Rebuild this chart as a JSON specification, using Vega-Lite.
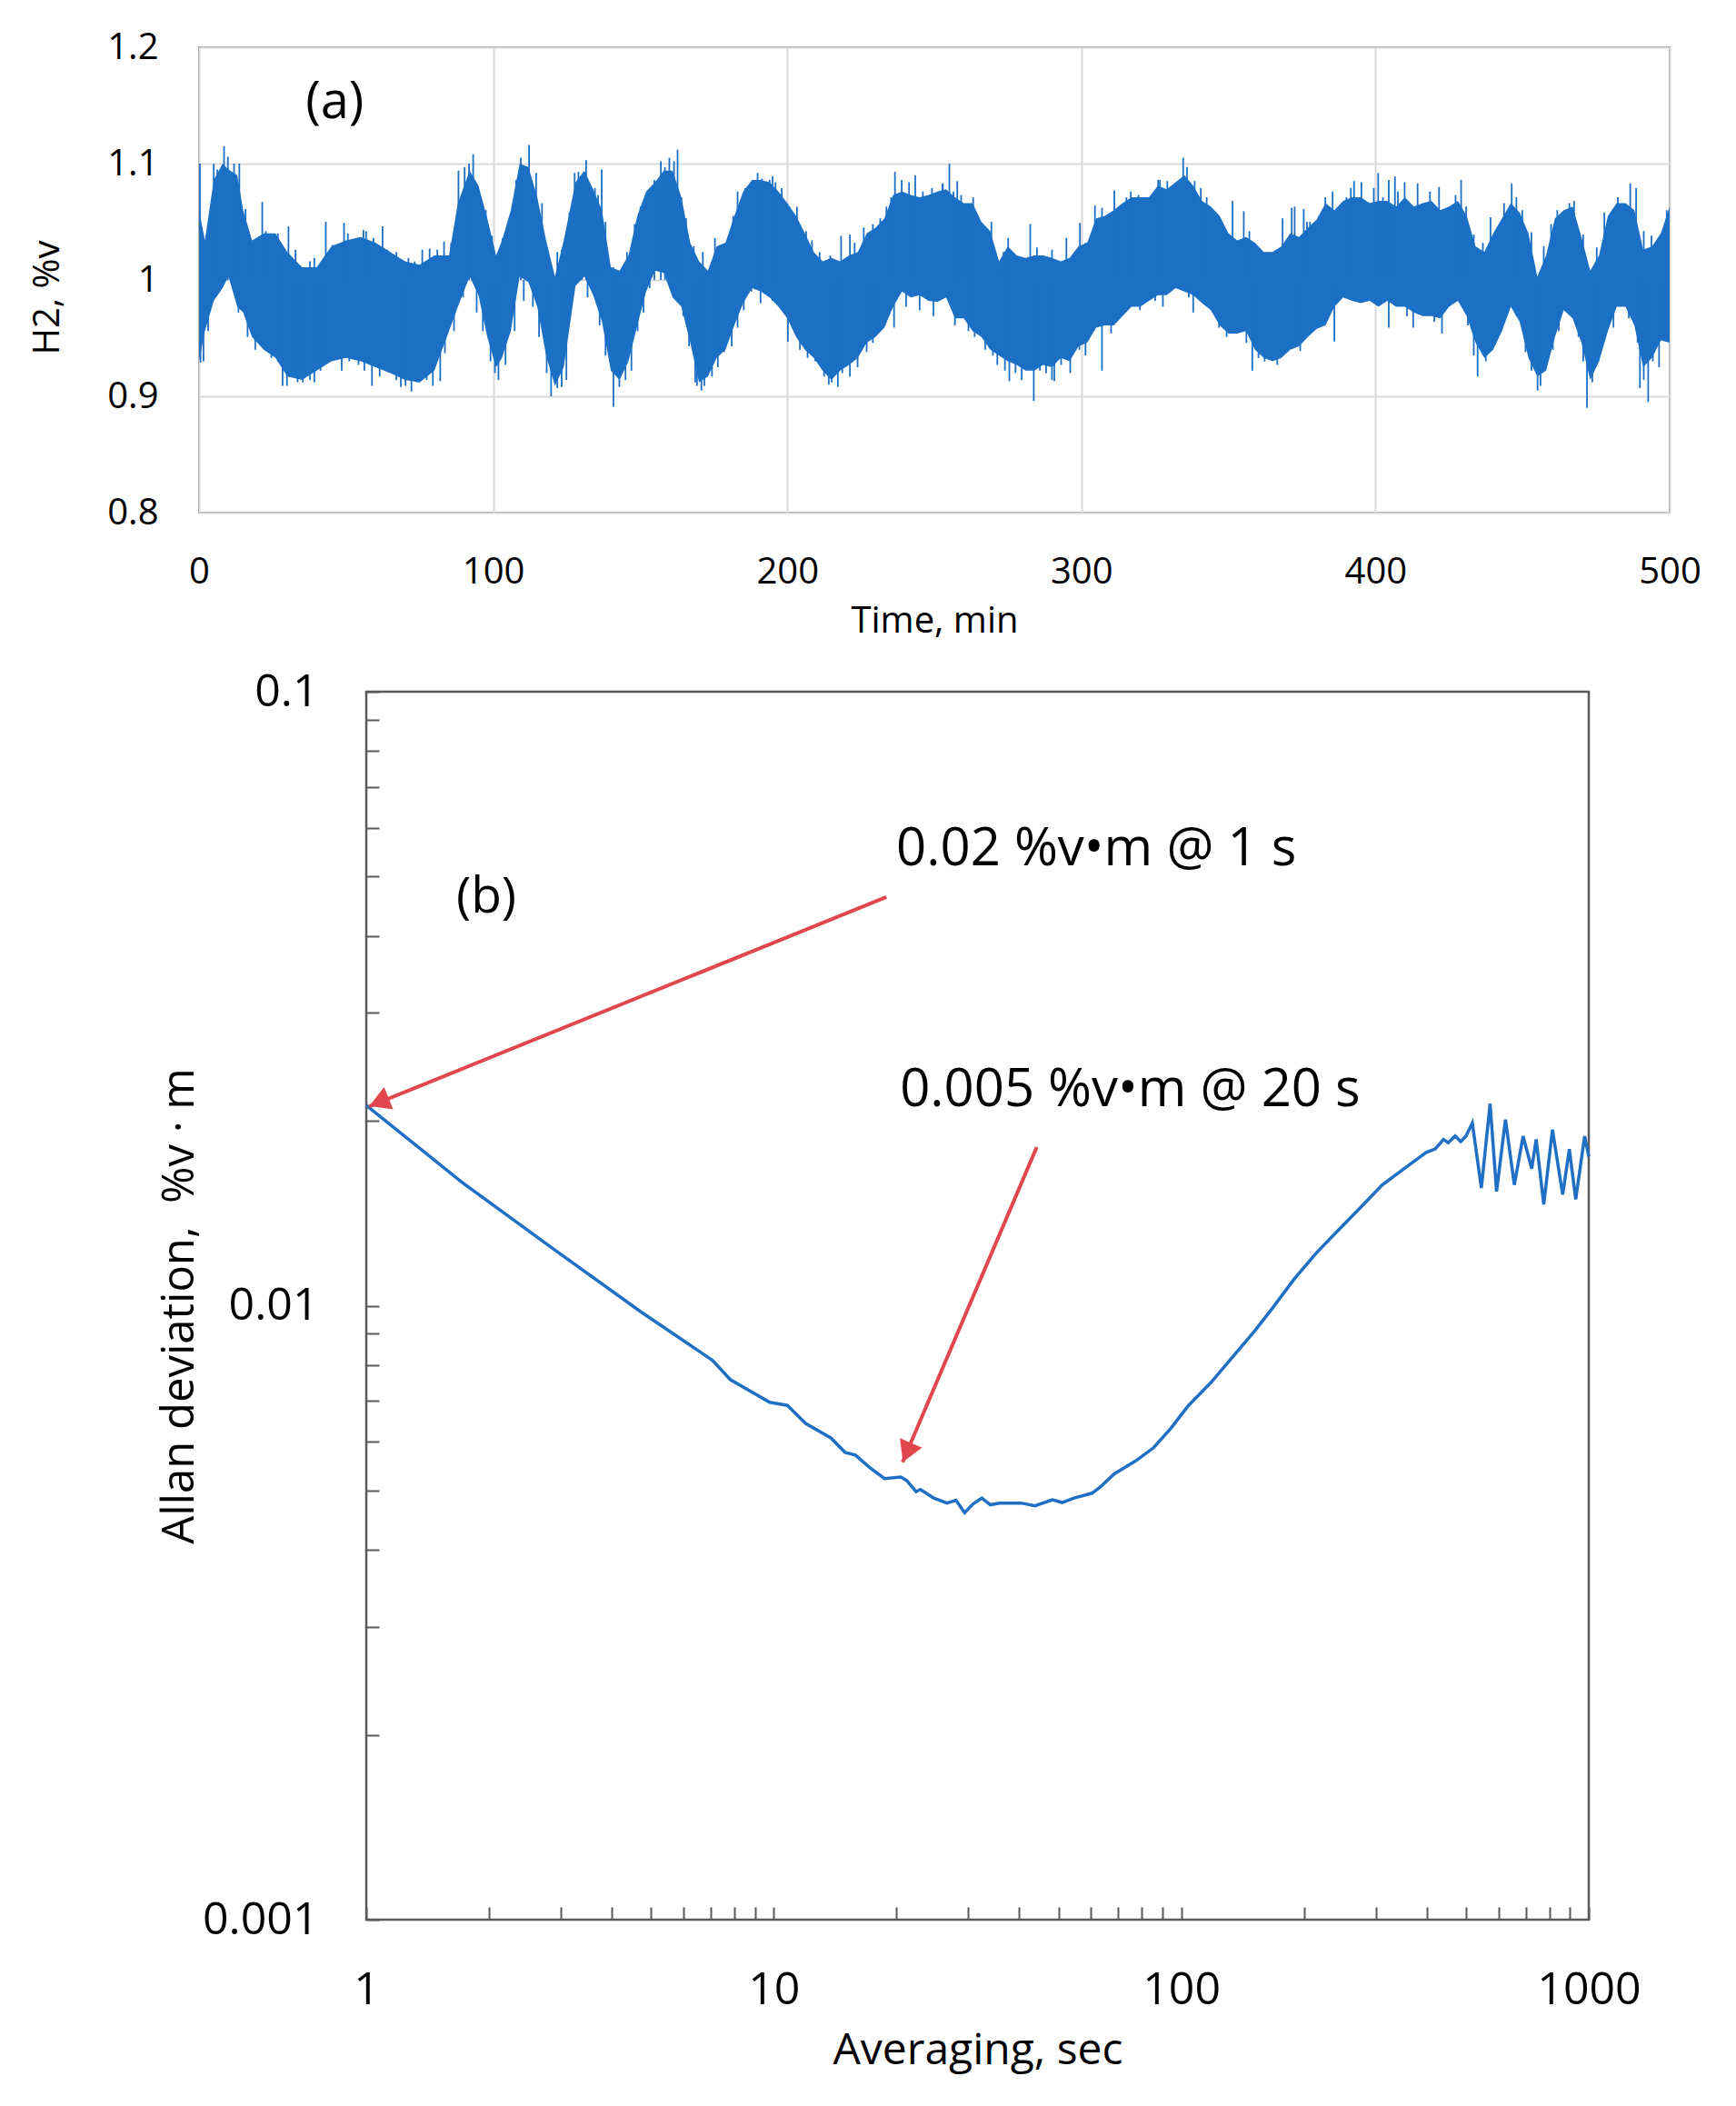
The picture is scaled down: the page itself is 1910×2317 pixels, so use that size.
{
  "$schema": "https://vega.github.io/schema/vega-lite/v6.json",
  "background": "white",
  "padding": {"left": 31, "top": 31, "right": 0, "bottom": 0},
  "config": {"font": "Open Sans", "view": {"stroke": null}},
  "spacing": 30,
  "datasets": {
    "band": [
      {"t": 0, "lo": 0.93, "hi": 1.06}, {"t": 2, "lo": 0.956, "hi": 1.034}, {"t": 5, "lo": 0.982, "hi": 1.086},
      {"t": 8, "lo": 0.993, "hi": 1.1}, {"t": 10, "lo": 1.003, "hi": 1.095}, {"t": 13, "lo": 0.977, "hi": 1.09},
      {"t": 15, "lo": 0.972, "hi": 1.06}, {"t": 18, "lo": 0.951, "hi": 1.034}, {"t": 22, "lo": 0.94, "hi": 1.04},
      {"t": 26, "lo": 0.933, "hi": 1.04}, {"t": 30, "lo": 0.917, "hi": 1.024}, {"t": 35, "lo": 0.914, "hi": 1.011},
      {"t": 40, "lo": 0.922, "hi": 1.011}, {"t": 45, "lo": 0.93, "hi": 1.029}, {"t": 50, "lo": 0.933, "hi": 1.034},
      {"t": 55, "lo": 0.93, "hi": 1.037}, {"t": 60, "lo": 0.925, "hi": 1.032}, {"t": 65, "lo": 0.92, "hi": 1.024},
      {"t": 70, "lo": 0.914, "hi": 1.016}, {"t": 75, "lo": 0.912, "hi": 1.013}, {"t": 80, "lo": 0.922, "hi": 1.021},
      {"t": 85, "lo": 0.956, "hi": 1.021}, {"t": 88, "lo": 0.977, "hi": 1.066}, {"t": 92, "lo": 1.003, "hi": 1.094},
      {"t": 95, "lo": 0.987, "hi": 1.081}, {"t": 98, "lo": 0.951, "hi": 1.053}, {"t": 101, "lo": 0.925, "hi": 1.021},
      {"t": 103, "lo": 0.933, "hi": 1.034}, {"t": 106, "lo": 0.956, "hi": 1.06}, {"t": 109, "lo": 1.003, "hi": 1.1},
      {"t": 112, "lo": 0.998, "hi": 1.097}, {"t": 115, "lo": 0.977, "hi": 1.071}, {"t": 118, "lo": 0.935, "hi": 1.034},
      {"t": 121, "lo": 0.909, "hi": 1.003}, {"t": 124, "lo": 0.925, "hi": 1.034}, {"t": 128, "lo": 0.995, "hi": 1.084},
      {"t": 131, "lo": 1.003, "hi": 1.094}, {"t": 134, "lo": 0.987, "hi": 1.078}, {"t": 137, "lo": 0.964, "hi": 1.06},
      {"t": 140, "lo": 0.922, "hi": 1.011}, {"t": 143, "lo": 0.914, "hi": 1.008}, {"t": 146, "lo": 0.93, "hi": 1.021},
      {"t": 149, "lo": 0.961, "hi": 1.055}, {"t": 152, "lo": 0.99, "hi": 1.076}, {"t": 155, "lo": 1.008, "hi": 1.084},
      {"t": 158, "lo": 1.006, "hi": 1.094}, {"t": 161, "lo": 0.985, "hi": 1.094}, {"t": 164, "lo": 0.977, "hi": 1.071},
      {"t": 167, "lo": 0.946, "hi": 1.032}, {"t": 170, "lo": 0.912, "hi": 1.016}, {"t": 173, "lo": 0.917, "hi": 1.008},
      {"t": 176, "lo": 0.933, "hi": 1.029}, {"t": 179, "lo": 0.94, "hi": 1.032}, {"t": 182, "lo": 0.961, "hi": 1.055},
      {"t": 185, "lo": 0.98, "hi": 1.076}, {"t": 188, "lo": 0.993, "hi": 1.086}, {"t": 191, "lo": 0.99, "hi": 1.086},
      {"t": 194, "lo": 0.985, "hi": 1.084}, {"t": 197, "lo": 0.977, "hi": 1.076}, {"t": 200, "lo": 0.967, "hi": 1.066},
      {"t": 203, "lo": 0.951, "hi": 1.055}, {"t": 206, "lo": 0.94, "hi": 1.04}, {"t": 209, "lo": 0.933, "hi": 1.024},
      {"t": 212, "lo": 0.922, "hi": 1.016}, {"t": 215, "lo": 0.914, "hi": 1.019}, {"t": 218, "lo": 0.922, "hi": 1.016},
      {"t": 221, "lo": 0.927, "hi": 1.021}, {"t": 224, "lo": 0.933, "hi": 1.024}, {"t": 227, "lo": 0.946, "hi": 1.04},
      {"t": 230, "lo": 0.951, "hi": 1.045}, {"t": 233, "lo": 0.959, "hi": 1.053}, {"t": 236, "lo": 0.977, "hi": 1.073},
      {"t": 239, "lo": 0.99, "hi": 1.076}, {"t": 242, "lo": 0.985, "hi": 1.073}, {"t": 245, "lo": 0.987, "hi": 1.071},
      {"t": 248, "lo": 0.982, "hi": 1.073}, {"t": 251, "lo": 0.981, "hi": 1.076}, {"t": 254, "lo": 0.985, "hi": 1.078},
      {"t": 257, "lo": 0.967, "hi": 1.071}, {"t": 260, "lo": 0.967, "hi": 1.066}, {"t": 263, "lo": 0.956, "hi": 1.066},
      {"t": 266, "lo": 0.951, "hi": 1.05}, {"t": 269, "lo": 0.94, "hi": 1.042}, {"t": 272, "lo": 0.935, "hi": 1.016},
      {"t": 275, "lo": 0.93, "hi": 1.029}, {"t": 278, "lo": 0.927, "hi": 1.021}, {"t": 281, "lo": 0.922, "hi": 1.019},
      {"t": 284, "lo": 0.922, "hi": 1.021}, {"t": 287, "lo": 0.927, "hi": 1.021}, {"t": 290, "lo": 0.925, "hi": 1.019},
      {"t": 293, "lo": 0.933, "hi": 1.016}, {"t": 296, "lo": 0.93, "hi": 1.019}, {"t": 299, "lo": 0.943, "hi": 1.029},
      {"t": 302, "lo": 0.946, "hi": 1.032}, {"t": 305, "lo": 0.959, "hi": 1.053}, {"t": 308, "lo": 0.961, "hi": 1.055},
      {"t": 311, "lo": 0.961, "hi": 1.06}, {"t": 314, "lo": 0.969, "hi": 1.066}, {"t": 317, "lo": 0.977, "hi": 1.071},
      {"t": 320, "lo": 0.977, "hi": 1.071}, {"t": 323, "lo": 0.982, "hi": 1.071}, {"t": 326, "lo": 0.987, "hi": 1.081},
      {"t": 329, "lo": 0.987, "hi": 1.078}, {"t": 332, "lo": 0.993, "hi": 1.084}, {"t": 335, "lo": 0.99, "hi": 1.09},
      {"t": 338, "lo": 0.987, "hi": 1.081}, {"t": 341, "lo": 0.98, "hi": 1.068}, {"t": 344, "lo": 0.974, "hi": 1.063},
      {"t": 347, "lo": 0.961, "hi": 1.055}, {"t": 350, "lo": 0.954, "hi": 1.04}, {"t": 353, "lo": 0.954, "hi": 1.034},
      {"t": 356, "lo": 0.956, "hi": 1.037}, {"t": 359, "lo": 0.94, "hi": 1.032}, {"t": 362, "lo": 0.933, "hi": 1.024},
      {"t": 365, "lo": 0.93, "hi": 1.024}, {"t": 368, "lo": 0.933, "hi": 1.029}, {"t": 371, "lo": 0.94, "hi": 1.04},
      {"t": 374, "lo": 0.943, "hi": 1.037}, {"t": 377, "lo": 0.951, "hi": 1.045}, {"t": 380, "lo": 0.958, "hi": 1.052},
      {"t": 383, "lo": 0.961, "hi": 1.066}, {"t": 386, "lo": 0.977, "hi": 1.06}, {"t": 389, "lo": 0.985, "hi": 1.068},
      {"t": 392, "lo": 0.982, "hi": 1.071}, {"t": 395, "lo": 0.98, "hi": 1.071}, {"t": 398, "lo": 0.982, "hi": 1.066},
      {"t": 401, "lo": 0.977, "hi": 1.068}, {"t": 404, "lo": 0.982, "hi": 1.068}, {"t": 407, "lo": 0.977, "hi": 1.063},
      {"t": 410, "lo": 0.977, "hi": 1.071}, {"t": 413, "lo": 0.972, "hi": 1.063}, {"t": 416, "lo": 0.969, "hi": 1.066},
      {"t": 419, "lo": 0.969, "hi": 1.068}, {"t": 422, "lo": 0.967, "hi": 1.06}, {"t": 425, "lo": 0.977, "hi": 1.063},
      {"t": 428, "lo": 0.982, "hi": 1.068}, {"t": 431, "lo": 0.969, "hi": 1.055}, {"t": 434, "lo": 0.946, "hi": 1.029},
      {"t": 437, "lo": 0.933, "hi": 1.024}, {"t": 440, "lo": 0.94, "hi": 1.04}, {"t": 443, "lo": 0.956, "hi": 1.053},
      {"t": 446, "lo": 0.977, "hi": 1.066}, {"t": 449, "lo": 0.964, "hi": 1.058}, {"t": 452, "lo": 0.933, "hi": 1.04},
      {"t": 455, "lo": 0.917, "hi": 1.003}, {"t": 458, "lo": 0.922, "hi": 1.021}, {"t": 461, "lo": 0.951, "hi": 1.053},
      {"t": 464, "lo": 0.974, "hi": 1.06}, {"t": 467, "lo": 0.967, "hi": 1.063}, {"t": 470, "lo": 0.946, "hi": 1.037},
      {"t": 473, "lo": 0.914, "hi": 1.008}, {"t": 476, "lo": 0.93, "hi": 1.021}, {"t": 479, "lo": 0.956, "hi": 1.055},
      {"t": 482, "lo": 0.977, "hi": 1.066}, {"t": 485, "lo": 0.977, "hi": 1.066}, {"t": 488, "lo": 0.961, "hi": 1.06},
      {"t": 491, "lo": 0.925, "hi": 1.026}, {"t": 494, "lo": 0.933, "hi": 1.029}, {"t": 497, "lo": 0.948, "hi": 1.04},
      {"t": 500, "lo": 0.946, "hi": 1.063}
    ],
    "spikes": [
      {"t": 0.3, "v": 1.1}, {"t": 8.5, "v": 1.115}, {"t": 11.9, "v": 1.1}, {"t": 13.7, "v": 1.1}, {"t": 21.5, "v": 1.067},
      {"t": 30.4, "v": 1.046}, {"t": 43.1, "v": 1.05}, {"t": 49.3, "v": 1.049}, {"t": 55.9, "v": 1.043}, {"t": 62.4, "v": 1.046},
      {"t": 83.3, "v": 1.033}, {"t": 93.2, "v": 1.108}, {"t": 99.6, "v": 1.038}, {"t": 112.2, "v": 1.116}, {"t": 131.6, "v": 1.103},
      {"t": 136.9, "v": 1.095}, {"t": 157, "v": 1.102}, {"t": 162.7, "v": 1.112}, {"t": 175.4, "v": 1.036}, {"t": 189.9, "v": 1.092},
      {"t": 195, "v": 1.089}, {"t": 218.3, "v": 1.038}, {"t": 236.6, "v": 1.093}, {"t": 243.5, "v": 1.09}, {"t": 255.1, "v": 1.1},
      {"t": 257.8, "v": 1.085}, {"t": 282.6, "v": 1.048}, {"t": 294.9, "v": 1.036}, {"t": 299.5, "v": 1.049}, {"t": 304.6, "v": 1.064},
      {"t": 311.2, "v": 1.077}, {"t": 326.7, "v": 1.086}, {"t": 334.6, "v": 1.105}, {"t": 351.4, "v": 1.068}, {"t": 355.2, "v": 1.059},
      {"t": 371.5, "v": 1.062}, {"t": 375.6, "v": 1.061}, {"t": 392.7, "v": 1.085}, {"t": 400.9, "v": 1.092}, {"t": 406.6, "v": 1.089},
      {"t": 429.1, "v": 1.086}, {"t": 446.3, "v": 1.083}, {"t": 467.5, "v": 1.068}, {"t": 486.6, "v": 1.083},
      {"t": 0.5, "v": 0.929}, {"t": 28.4, "v": 0.909}, {"t": 33.5, "v": 0.912}, {"t": 39.2, "v": 0.912}, {"t": 58.8, "v": 0.909},
      {"t": 68.6, "v": 0.908}, {"t": 72.2, "v": 0.904}, {"t": 82, "v": 0.913}, {"t": 101.8, "v": 0.914}, {"t": 119.7, "v": 0.9},
      {"t": 123.3, "v": 0.908}, {"t": 140.9, "v": 0.891}, {"t": 142.9, "v": 0.908}, {"t": 169.3, "v": 0.909}, {"t": 170.8, "v": 0.905},
      {"t": 214.1, "v": 0.91}, {"t": 217.2, "v": 0.908}, {"t": 275.5, "v": 0.913}, {"t": 283.8, "v": 0.896}, {"t": 290.8, "v": 0.913},
      {"t": 307, "v": 0.922}, {"t": 358.1, "v": 0.922}, {"t": 366.6, "v": 0.927}, {"t": 374.4, "v": 0.939}, {"t": 386, "v": 0.947},
      {"t": 434.7, "v": 0.917}, {"t": 455.1, "v": 0.905}, {"t": 471.9, "v": 0.89}, {"t": 489.9, "v": 0.907}, {"t": 492.7, "v": 0.895},
      {"t": 5, "v": 1.1}, {"t": 6.2, "v": 1.095}, {"t": 9.8, "v": 1.106}, {"t": 15.8, "v": 1.061}, {"t": 17, "v": 1.041},
      {"t": 19, "v": 1.032}, {"t": 22.7, "v": 1.042}, {"t": 24.3, "v": 1.04}, {"t": 26.8, "v": 1.04}, {"t": 28.4, "v": 1.024},
      {"t": 32.8, "v": 1.026}, {"t": 34.6, "v": 1.012}, {"t": 37.7, "v": 1.016}, {"t": 39.2, "v": 1.019}, {"t": 45.4, "v": 1.03},
      {"t": 47.5, "v": 1.031}, {"t": 50.6, "v": 1.04}, {"t": 53.1, "v": 1.034}, {"t": 56.8, "v": 1.042}, {"t": 59.3, "v": 1.036},
      {"t": 64, "v": 1.026}, {"t": 67.1, "v": 1.024}, {"t": 71.2, "v": 1.019}, {"t": 73.3, "v": 1.016}, {"t": 75.9, "v": 1.026},
      {"t": 78.4, "v": 1.027}, {"t": 81, "v": 1.026}, {"t": 85.7, "v": 1.032}, {"t": 88.2, "v": 1.094}, {"t": 90.3, "v": 1.097},
      {"t": 91.8, "v": 1.1}, {"t": 97.5, "v": 1.06}, {"t": 103.2, "v": 1.036}, {"t": 104.7, "v": 1.038}, {"t": 107.8, "v": 1.086},
      {"t": 109.4, "v": 1.105}, {"t": 114.6, "v": 1.092}, {"t": 116.6, "v": 1.066}, {"t": 121.8, "v": 1.024}, {"t": 123.3, "v": 1.026},
      {"t": 125.9, "v": 1.058},
      {"t": 1.5, "v": 0.93}, {"t": 3.1, "v": 0.956}, {"t": 13.4, "v": 0.972}, {"t": 16.5, "v": 0.951}, {"t": 19.1, "v": 0.94},
      {"t": 22.2, "v": 0.943}, {"t": 24.6, "v": 0.933}, {"t": 26.8, "v": 0.93}, {"t": 29.9, "v": 0.909}, {"t": 31.5, "v": 0.92},
      {"t": 35.3, "v": 0.912}, {"t": 37.7, "v": 0.914}, {"t": 41.3, "v": 0.922}, {"t": 42.8, "v": 0.93}, {"t": 48.5, "v": 0.922},
      {"t": 51.1, "v": 0.93}, {"t": 54.2, "v": 0.927}, {"t": 56.2, "v": 0.922}, {"t": 61.4, "v": 0.917}, {"t": 64, "v": 0.925},
      {"t": 67.1, "v": 0.914}, {"t": 70.2, "v": 0.909}, {"t": 74.3, "v": 0.912}, {"t": 77.4, "v": 0.914}, {"t": 79.5, "v": 0.909},
      {"t": 83.6, "v": 0.937}, {"t": 86.7, "v": 0.956}, {"t": 89.8, "v": 0.985}, {"t": 94.4, "v": 0.972}, {"t": 96.5, "v": 0.956},
      {"t": 99.1, "v": 0.93}, {"t": 100.6, "v": 0.92}, {"t": 104.2, "v": 0.927}, {"t": 107.3, "v": 0.956}, {"t": 110.4, "v": 0.982},
      {"t": 113.5, "v": 0.977}, {"t": 115.6, "v": 0.951}, {"t": 118.2, "v": 0.92}, {"t": 121.8, "v": 0.907}, {"t": 124.9, "v": 0.914},
      {"t": 127.7, "v": 1.092}, {"t": 129, "v": 1.093}, {"t": 130.2, "v": 1.089}, {"t": 132.6, "v": 1.084}, {"t": 134.6, "v": 1.079},
      {"t": 135.7, "v": 1.073}, {"t": 138.2, "v": 1.05}, {"t": 140.8, "v": 1.011}, {"t": 143.4, "v": 1.008}, {"t": 145.5, "v": 1.024},
      {"t": 148.1, "v": 1.048}, {"t": 150.1, "v": 1.063}, {"t": 152.7, "v": 1.076}, {"t": 154.8, "v": 1.086}, {"t": 158.4, "v": 1.097},
      {"t": 159.9, "v": 1.105}, {"t": 161.5, "v": 1.102}, {"t": 164, "v": 1.071}, {"t": 165.6, "v": 1.053}, {"t": 168.2, "v": 1.029},
      {"t": 171.3, "v": 1.024}, {"t": 177, "v": 1.029}, {"t": 179.5, "v": 1.034}, {"t": 181.6, "v": 1.055}, {"t": 183.1, "v": 1.076},
      {"t": 185.7, "v": 1.079}, {"t": 188.3, "v": 1.086}, {"t": 191.4, "v": 1.087}, {"t": 194, "v": 1.086}, {"t": 196, "v": 1.084},
      {"t": 198.1, "v": 1.079}, {"t": 200.7, "v": 1.063}, {"t": 203.3, "v": 1.063}, {"t": 206.4, "v": 1.042}, {"t": 208.4, "v": 1.034},
      {"t": 211, "v": 1.024}, {"t": 214.6, "v": 1.021}, {"t": 221.3, "v": 1.039}, {"t": 222.9, "v": 1.032}, {"t": 226, "v": 1.045},
      {"t": 229.1, "v": 1.048}, {"t": 231.6, "v": 1.053}, {"t": 233.7, "v": 1.063}, {"t": 235.3, "v": 1.071}, {"t": 238.9, "v": 1.086},
      {"t": 241.4, "v": 1.084}, {"t": 246.1, "v": 1.076}, {"t": 249.2, "v": 1.079}, {"t": 252.8, "v": 1.083},
      {"t": 124.8, "v": 0.938}, {"t": 126.9, "v": 0.982}, {"t": 132.1, "v": 0.985}, {"t": 136.2, "v": 0.961}, {"t": 138.2, "v": 0.935},
      {"t": 140.3, "v": 0.922}, {"t": 145, "v": 0.914}, {"t": 147, "v": 0.922}, {"t": 149.1, "v": 0.956}, {"t": 151.1, "v": 0.972},
      {"t": 153.2, "v": 0.993}, {"t": 159.4, "v": 1.003}, {"t": 162, "v": 0.985}, {"t": 164.6, "v": 0.969}, {"t": 166.6, "v": 0.943},
      {"t": 168.7, "v": 0.912}, {"t": 171.8, "v": 0.909}, {"t": 174.4, "v": 0.917}, {"t": 176.4, "v": 0.925}, {"t": 178.5, "v": 0.938},
      {"t": 181.1, "v": 0.943}, {"t": 183.1, "v": 0.959}, {"t": 185.2, "v": 0.974}, {"t": 187.8, "v": 0.99}, {"t": 190.9, "v": 0.98},
      {"t": 195, "v": 0.982}, {"t": 200.2, "v": 0.947}, {"t": 204.3, "v": 0.94}, {"t": 206.9, "v": 0.933}, {"t": 209.5, "v": 0.93},
      {"t": 212.5, "v": 0.917}, {"t": 215.1, "v": 0.912}, {"t": 218.7, "v": 0.92}, {"t": 221.3, "v": 0.917}, {"t": 223.9, "v": 0.925},
      {"t": 227, "v": 0.938}, {"t": 229.1, "v": 0.946}, {"t": 231.1, "v": 0.956}, {"t": 233.2, "v": 0.961}, {"t": 236.3, "v": 0.959},
      {"t": 240.4, "v": 0.977}, {"t": 245, "v": 0.974}, {"t": 249.7, "v": 0.969},
      {"t": 252.9, "v": 1.083}, {"t": 256.5, "v": 1.076}, {"t": 259.1, "v": 1.073}, {"t": 261.1, "v": 1.063}, {"t": 263.2, "v": 1.071},
      {"t": 266.8, "v": 1.045}, {"t": 269.4, "v": 1.05}, {"t": 271.4, "v": 1.013}, {"t": 273.5, "v": 1.024}, {"t": 275.1, "v": 1.036},
      {"t": 279.2, "v": 1.02}, {"t": 284.9, "v": 1.028}, {"t": 290, "v": 1.026}, {"t": 301.4, "v": 1.032}, {"t": 307, "v": 1.062},
      {"t": 312.7, "v": 1.058}, {"t": 315.3, "v": 1.071}, {"t": 316.8, "v": 1.076}, {"t": 319.4, "v": 1.073}, {"t": 322, "v": 1.07},
      {"t": 324.6, "v": 1.075}, {"t": 326.1, "v": 1.086}, {"t": 329.2, "v": 1.085}, {"t": 332.3, "v": 1.079}, {"t": 335.9, "v": 1.097},
      {"t": 338.5, "v": 1.085}, {"t": 340.6, "v": 1.079}, {"t": 342.6, "v": 1.071}, {"t": 347.3, "v": 1.05}, {"t": 348.8, "v": 1.042},
      {"t": 357.1, "v": 1.042}, {"t": 361.7, "v": 1.024}, {"t": 366.4, "v": 1.013}, {"t": 368.4, "v": 1.053}, {"t": 376.7, "v": 1.05},
      {"t": 254.9, "v": 0.982}, {"t": 257, "v": 0.961}, {"t": 261.6, "v": 0.956}, {"t": 263.7, "v": 0.951}, {"t": 267.3, "v": 0.94},
      {"t": 269.9, "v": 0.935}, {"t": 271.4, "v": 0.927}, {"t": 274, "v": 0.922}, {"t": 277.6, "v": 0.92}, {"t": 279.7, "v": 0.914},
      {"t": 285.9, "v": 0.922}, {"t": 288, "v": 0.92}, {"t": 290, "v": 0.914}, {"t": 293.1, "v": 0.927}, {"t": 296.2, "v": 0.92},
      {"t": 299.3, "v": 0.94}, {"t": 301.4, "v": 0.935}, {"t": 304.5, "v": 0.959}, {"t": 310.1, "v": 0.954}, {"t": 314.3, "v": 0.972},
      {"t": 319.9, "v": 0.974}, {"t": 325.1, "v": 0.982}, {"t": 327.7, "v": 0.977}, {"t": 336.5, "v": 0.985}, {"t": 338, "v": 0.972},
      {"t": 344.7, "v": 0.972}, {"t": 346.8, "v": 0.959}, {"t": 349.4, "v": 0.951}, {"t": 356.1, "v": 0.946}, {"t": 360.2, "v": 0.933},
      {"t": 362.3, "v": 0.93}, {"t": 368.4, "v": 0.935}, {"t": 372.6, "v": 0.946}, {"t": 377.7, "v": 0.956},
      {"t": 372.5, "v": 1.063}, {"t": 377.7, "v": 1.05}, {"t": 380.8, "v": 1.055}, {"t": 382.9, "v": 1.071}, {"t": 385.4, "v": 1.076},
      {"t": 390.1, "v": 1.071}, {"t": 391.6, "v": 1.079}, {"t": 395.2, "v": 1.084}, {"t": 399.4, "v": 1.079}, {"t": 402.5, "v": 1.071},
      {"t": 404.5, "v": 1.086}, {"t": 407.6, "v": 1.076}, {"t": 409.9, "v": 1.084}, {"t": 414.3, "v": 1.083}, {"t": 418.5, "v": 1.076},
      {"t": 421.6, "v": 1.08}, {"t": 427.2, "v": 1.073}, {"t": 430.8, "v": 1.063}, {"t": 433.4, "v": 1.039}, {"t": 436.5, "v": 1.032},
      {"t": 439.1, "v": 1.054}, {"t": 443.7, "v": 1.066}, {"t": 447.9, "v": 1.071}, {"t": 449.9, "v": 1.06}, {"t": 453, "v": 1.041},
      {"t": 457.2, "v": 1.029}, {"t": 459.7, "v": 1.048}, {"t": 461.8, "v": 1.06}, {"t": 465.9, "v": 1.066}, {"t": 470.6, "v": 1.039},
      {"t": 475.2, "v": 1.028}, {"t": 477.8, "v": 1.058}, {"t": 482.4, "v": 1.071}, {"t": 488.6, "v": 1.079}, {"t": 491.2, "v": 1.042},
      {"t": 493.8, "v": 1.038}, {"t": 499, "v": 1.06},
      {"t": 373, "v": 0.951}, {"t": 380.3, "v": 0.959}, {"t": 387, "v": 0.982}, {"t": 389.6, "v": 0.988}, {"t": 397.8, "v": 0.985},
      {"t": 401.4, "v": 0.98}, {"t": 404.5, "v": 0.959}, {"t": 410.7, "v": 0.969}, {"t": 412.8, "v": 0.959}, {"t": 416.9, "v": 0.972},
      {"t": 420, "v": 0.964}, {"t": 422.6, "v": 0.954}, {"t": 425.2, "v": 0.98}, {"t": 431.4, "v": 0.961}, {"t": 433.4, "v": 0.935},
      {"t": 437.5, "v": 0.93}, {"t": 439.6, "v": 0.943}, {"t": 442.7, "v": 0.956}, {"t": 445.8, "v": 0.98}, {"t": 447.9, "v": 0.969},
      {"t": 451, "v": 0.938}, {"t": 453, "v": 0.922}, {"t": 456.1, "v": 0.909}, {"t": 458.2, "v": 0.927}, {"t": 460.3, "v": 0.94},
      {"t": 462.3, "v": 0.956}, {"t": 464.4, "v": 0.974}, {"t": 469, "v": 0.951}, {"t": 470.6, "v": 0.93}, {"t": 473.7, "v": 0.912},
      {"t": 475.7, "v": 0.93}, {"t": 477.8, "v": 0.951}, {"t": 480.9, "v": 0.959}, {"t": 483.5, "v": 0.988}, {"t": 486.1, "v": 0.967},
      {"t": 489.1, "v": 0.946}, {"t": 491.2, "v": 0.914}, {"t": 494.3, "v": 0.93}, {"t": 496.4, "v": 0.925}, {"t": 498.4, "v": 0.951}
    ],
    "adev": [
      {"tau": 1, "dev": 0.0212}, {"tau": 1.71, "dev": 0.01592}, {"tau": 2.9, "dev": 0.01233}, {"tau": 4.71, "dev": 0.00978},
      {"tau": 7.07, "dev": 0.00815}, {"tau": 7.82, "dev": 0.00758}, {"tau": 9.77, "dev": 0.00696}, {"tau": 10.8, "dev": 0.00688},
      {"tau": 11.97, "dev": 0.00643}, {"tau": 13.8, "dev": 0.00609}, {"tau": 14.96, "dev": 0.00577}, {"tau": 15.86, "dev": 0.00571},
      {"tau": 17.2, "dev": 0.00545}, {"tau": 18.7, "dev": 0.00523}, {"tau": 20.5, "dev": 0.00526}, {"tau": 21.2, "dev": 0.00519},
      {"tau": 22.35, "dev": 0.00498}, {"tau": 22.9, "dev": 0.00502}, {"tau": 24.7, "dev": 0.00486}, {"tau": 26.6, "dev": 0.00477},
      {"tau": 28, "dev": 0.00482}, {"tau": 29.4, "dev": 0.0046}, {"tau": 30.8, "dev": 0.00475}, {"tau": 32.4, "dev": 0.00486},
      {"tau": 34, "dev": 0.00474}, {"tau": 35.8, "dev": 0.00477}, {"tau": 40.5, "dev": 0.00477}, {"tau": 43.7, "dev": 0.00472},
      {"tau": 48.3, "dev": 0.00483}, {"tau": 51, "dev": 0.00478}, {"tau": 54.6, "dev": 0.00486}, {"tau": 60.4, "dev": 0.00495},
      {"tau": 63.4, "dev": 0.00507}, {"tau": 68.4, "dev": 0.00532}, {"tau": 77.4, "dev": 0.00559}, {"tau": 85.5, "dev": 0.00587},
      {"tau": 94.4, "dev": 0.00632}, {"tau": 104.2, "dev": 0.00688}, {"tau": 118.1, "dev": 0.00749}, {"tau": 133.7, "dev": 0.00825},
      {"tau": 151.5, "dev": 0.0091}, {"tau": 167.3, "dev": 0.0099}, {"tau": 189.5, "dev": 0.01106}, {"tau": 214.4, "dev": 0.01218},
      {"tau": 242.8, "dev": 0.01327}, {"tau": 275, "dev": 0.01444}, {"tau": 311.4, "dev": 0.01573}, {"tau": 352.5, "dev": 0.01672},
      {"tau": 399.2, "dev": 0.01777}, {"tau": 420, "dev": 0.0180}, {"tau": 440, "dev": 0.01865}, {"tau": 452, "dev": 0.01843},
      {"tau": 470, "dev": 0.0189}, {"tau": 485, "dev": 0.0185}, {"tau": 499.5, "dev": 0.01888}, {"tau": 518, "dev": 0.01983},
      {"tau": 545, "dev": 0.01555}, {"tau": 572.6, "dev": 0.02133}, {"tau": 594, "dev": 0.01535}, {"tau": 624.6, "dev": 0.02009},
      {"tau": 656.7, "dev": 0.01573}, {"tau": 690, "dev": 0.01888}, {"tau": 724.5, "dev": 0.01672}, {"tau": 743, "dev": 0.01866},
      {"tau": 775.5, "dev": 0.01462}, {"tau": 814.5, "dev": 0.01935}, {"tau": 863, "dev": 0.01517}, {"tau": 896, "dev": 0.01799},
      {"tau": 929, "dev": 0.0149}, {"tau": 977, "dev": 0.01888}, {"tau": 1000, "dev": 0.0175}
    ],
    "arrows": [
      {"x": 18.9, "y": 0.0463, "x2": 1.0155, "y2": 0.0211},
      {"x": 44.2, "y": 0.01813, "x2": 20.7, "y2": 0.00556}
    ],
    "heads": [
      {"n": 1, "x": 1.0745, "y": 0.02146},
      {"n": 2, "x": 21.22, "y": 0.005766}
    ],
    "notes": [
      {"x": 19.98, "y": 0.05524, "label": "0.02 %v•m @ 1 s"},
      {"x": 20.4, "y": 0.02239, "label": "0.005 %v•m @ 20 s"}
    ]
  },
  "vconcat": [
    {
      "width": 1618,
      "height": 512,
      "view": {"stroke": "#8c8c8c", "strokeWidth": 2},
      "layer": [
        {
          "data": {"name": "band"},
          "mark": {"type": "area", "color": "#1b6fc4", "opacity": 1},
          "encoding": {
            "x": {
              "field": "t", "type": "quantitative", "title": "Time, min",
              "scale": {"domain": [0, 500], "nice": false},
              "axis": {
                "values": [0, 100, 200, 300, 400, 500], "format": "d",
                "grid": true, "gridColor": "#d9d9d9", "gridWidth": 2,
                "ticks": false, "tickSize": 0, "domain": false,
                "labelFontSize": 40, "labelPadding": 45, "labelFlush": false, "labelColor": "#000",
                "titleFontSize": 40, "titleFontWeight": "normal", "titleColor": "#000", "titlePadding": 14
              }
            },
            "y": {
              "field": "lo", "type": "quantitative", "title": "H2, %v",
              "scale": {"domain": [0.8, 1.2], "nice": false, "zero": false},
              "axis": {
                "values": [0.8, 0.9, 1, 1.1, 1.2], "format": "~g",
                "grid": true, "gridColor": "#d9d9d9", "gridWidth": 2,
                "ticks": false, "tickSize": 0, "domain": false,
                "labelFontSize": 40, "labelPadding": 45, "labelFlush": false, "labelColor": "#000",
                "titleFontSize": 40, "titleFontWeight": "normal", "titleColor": "#000", "titlePadding": 45, "titleY": 275
              }
            },
            "y2": {"field": "hi"}
          }
        },
        {
          "data": {"name": "spikes"},
          "mark": {"type": "rule", "color": "#1b6fc4", "strokeWidth": 1.8},
          "encoding": {
            "x": {"field": "t", "type": "quantitative", "title": "Time, min"},
            "y": {"field": "v", "type": "quantitative", "title": "H2, %v"},
            "y2": {"datum": 1}
          }
        },
        {
          "data": {"values": [{"t": 36.2, "v": 1.152, "label": "(a)"}]},
          "mark": {"type": "text", "fontSize": 56, "align": "left", "baseline": "middle", "color": "#000"},
          "encoding": {
            "x": {"field": "t", "type": "quantitative", "title": "Time, min"},
            "y": {"field": "v", "type": "quantitative", "title": "H2, %v"},
            "text": {"field": "label"}
          }
        }
      ]
    },
    {
      "hconcat": [
        {
          "width": 184,
          "height": 1,
          "data": {"values": [{"s": ""}]},
          "mark": {"type": "text"},
          "encoding": {"text": {"field": "s"}}
        },
        {
          "width": 1345,
          "height": 1351,
          "view": {"stroke": "#595959", "strokeWidth": 2.5},
          "layer": [
            {
              "data": {"name": "adev"},
              "mark": {"type": "line", "color": "#1f6fc5", "strokeWidth": 3.5},
              "encoding": {
                "x": {
                  "field": "tau", "type": "quantitative", "title": "Averaging, sec",
                  "scale": {"type": "log", "domain": [1, 1000], "nice": false},
                  "axis": {
                    "values": [1, 2, 3, 4, 5, 6, 7, 8, 9, 10, 20, 30, 40, 50, 60, 70, 80, 90, 100, 200, 300, 400, 500, 600, 700, 800, 900, 1000],
                    "format": "d",
                    "labelExpr": "indexof([1, 10, 100, 1000], datum.value) >= 0 ? datum.label : ''",
                    "grid": false, "domain": false,
                    "ticks": true, "tickSize": -14, "tickWidth": 2, "tickColor": "#595959",
                    "labelFontSize": 50, "labelPadding": 66, "labelFlush": false, "labelOverlap": false, "labelColor": "#000",
                    "titleFontSize": 48, "titleFontWeight": "normal", "titleColor": "#000", "titlePadding": 18
                  }
                },
                "y": {
                  "field": "dev", "type": "quantitative", "title": "Allan deviation,\u00a0 %v · m",
                  "scale": {"type": "log", "domain": [0.001, 0.1], "nice": false},
                  "axis": {
                    "values": [0.001, 0.002, 0.003, 0.004, 0.005, 0.006, 0.007, 0.008, 0.009, 0.01, 0.02, 0.03, 0.04, 0.05, 0.06, 0.07, 0.08, 0.09, 0.1],
                    "format": "~g",
                    "labelExpr": "indexof([0.001, 0.01, 0.1], datum.value) >= 0 ? datum.label : ''",
                    "grid": false, "domain": false,
                    "ticks": true, "tickSize": -14, "tickWidth": 2, "tickColor": "#595959",
                    "labelFontSize": 50, "labelPadding": 67, "labelFlush": false, "labelOverlap": false, "labelColor": "#000",
                    "titleFontSize": 49, "titleFontWeight": "normal", "titleColor": "#000", "titlePadding": 0
                  }
                }
              }
            },
            {
              "data": {"name": "arrows"},
              "mark": {"type": "rule", "color": "#e0474c", "strokeWidth": 4},
              "encoding": {
                "x": {"field": "x", "type": "quantitative", "title": "Averaging, sec"},
                "y": {"field": "y", "type": "quantitative", "title": "Allan deviation,\u00a0 %v · m"},
                "x2": {"field": "x2"},
                "y2": {"field": "y2"}
              }
            },
            {
              "data": {"name": "heads"},
              "transform": [{"filter": "datum.n == 1"}],
              "mark": {"type": "point", "shape": "triangle-up", "filled": true, "color": "#e0474c", "opacity": 1, "size": 700, "angle": 248},
              "encoding": {
                "x": {"field": "x", "type": "quantitative", "title": "Averaging, sec"},
                "y": {"field": "y", "type": "quantitative", "title": "Allan deviation,\u00a0 %v · m"}
              }
            },
            {
              "data": {"name": "heads"},
              "transform": [{"filter": "datum.n == 2"}],
              "mark": {"type": "point", "shape": "triangle-up", "filled": true, "color": "#e0474c", "opacity": 1, "size": 700, "angle": 203},
              "encoding": {
                "x": {"field": "x", "type": "quantitative", "title": "Averaging, sec"},
                "y": {"field": "y", "type": "quantitative", "title": "Allan deviation,\u00a0 %v · m"}
              }
            },
            {
              "data": {"name": "notes"},
              "mark": {"type": "text", "fontSize": 58, "align": "left", "baseline": "middle", "color": "#000"},
              "encoding": {
                "x": {"field": "x", "type": "quantitative", "title": "Averaging, sec"},
                "y": {"field": "y", "type": "quantitative", "title": "Allan deviation,\u00a0 %v · m"},
                "text": {"field": "label"}
              }
            },
            {
              "data": {"values": [{"x": 1.662, "y": 0.04628, "label": "(b)"}]},
              "mark": {"type": "text", "fontSize": 55, "align": "left", "baseline": "middle", "color": "#000"},
              "encoding": {
                "x": {"field": "x", "type": "quantitative", "title": "Averaging, sec"},
                "y": {"field": "y", "type": "quantitative", "title": "Allan deviation,\u00a0 %v · m"},
                "text": {"field": "label"}
              }
            }
          ]
        }
      ],
      "spacing": 0,
      "bounds": "flush"
    }
  ]
}
